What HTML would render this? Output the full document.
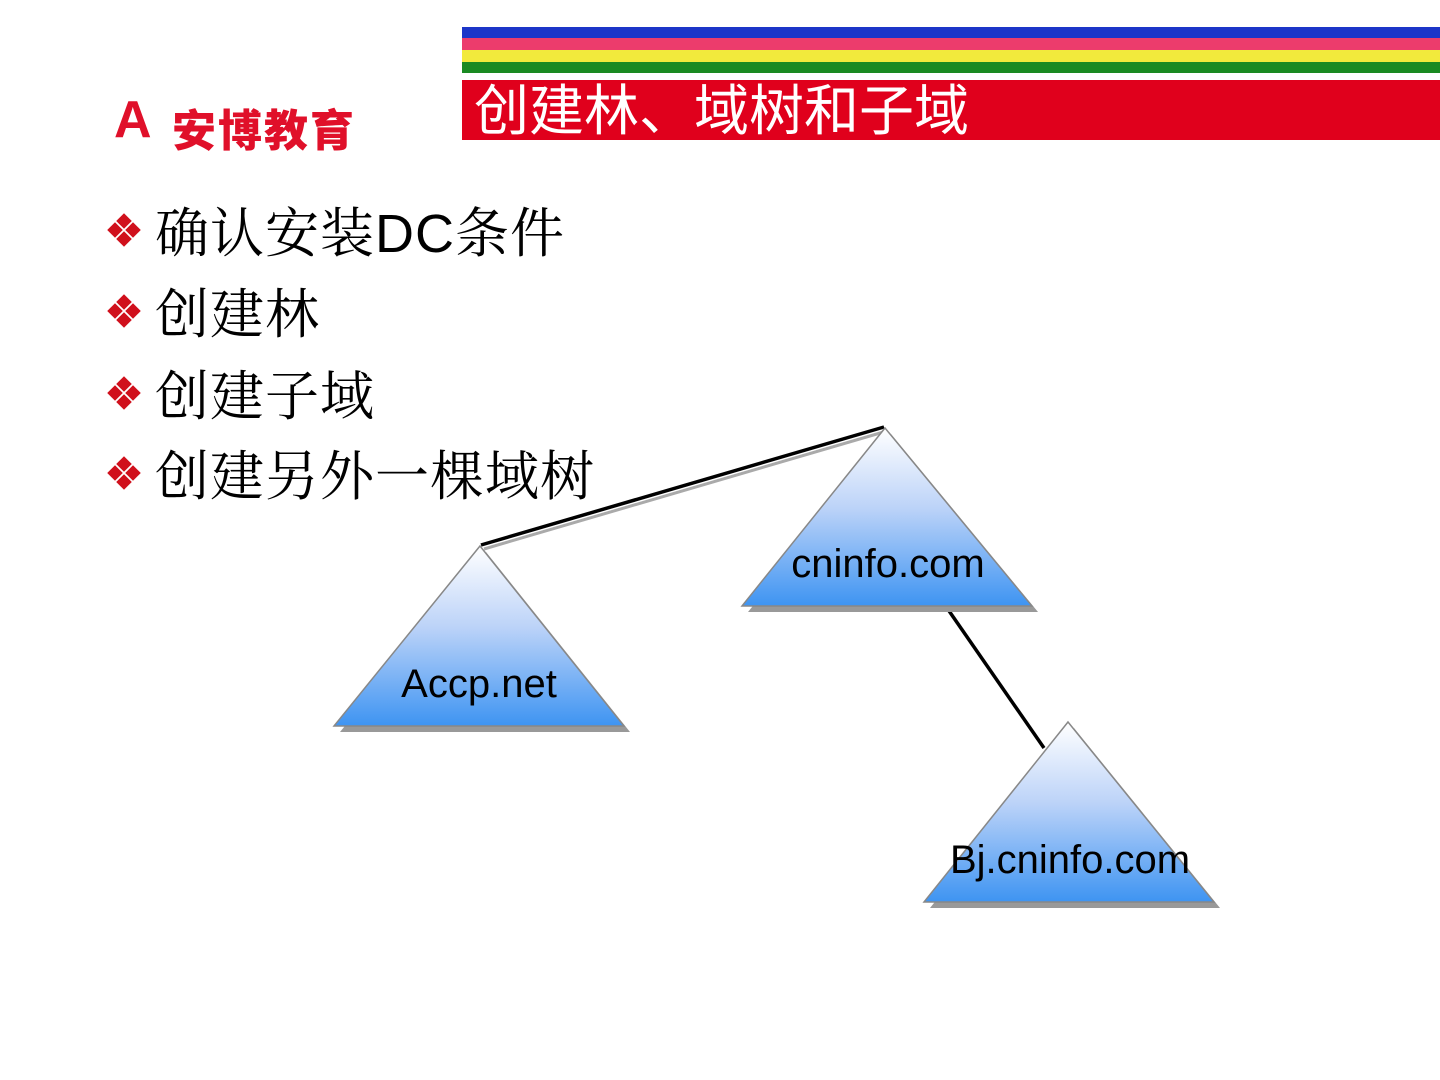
<!DOCTYPE html>
<html><head><meta charset="utf-8"><style>
body{margin:0;width:1440px;height:1080px;background:#fff;overflow:hidden;position:relative;font-family:"Liberation Sans","Noto Sans CJK SC",sans-serif}
.abs{position:absolute}
.b{position:absolute;left:155px;font-family:"Liberation Serif","Noto Serif CJK SC",serif;font-size:54px;line-height:60px;color:#000;white-space:nowrap;letter-spacing:1px}
.b span{font-family:"Liberation Sans",sans-serif}
</style></head><body>
<div class="abs" style="left:462px;top:27px;width:978px;height:11px;background:#1c35c8"></div>
<div class="abs" style="left:462px;top:38px;width:978px;height:12px;background:#ec3c6c"></div>
<div class="abs" style="left:462px;top:50px;width:978px;height:12px;background:#f2ea3c"></div>
<div class="abs" style="left:462px;top:62px;width:978px;height:11px;background:#1a8a22"></div>
<div class="abs" style="left:462px;top:80px;width:978px;height:60px;background:#e0001c"></div>
<div class="abs" style="left:474px;top:80px;color:#fff;font-size:55px;line-height:62px;font-family:'Liberation Sans','Noto Sans CJK SC',sans-serif;white-space:nowrap;letter-spacing:0px">创建林、域树和子域</div>
<div class="abs" style="left:114px;top:94px;color:#e0102a;font-size:52px;line-height:52px;font-weight:bold;font-family:'Liberation Sans',sans-serif">A</div>
<div class="abs" style="left:172px;top:104px;color:#e0102a;font-size:44px;line-height:46px;font-weight:900;font-family:'Noto Sans CJK SC',sans-serif;letter-spacing:2px">安博教育</div>

<svg class="abs" style="left:0;top:0" width="1440" height="1080">
<defs>
<g id="dm"><g fill="#d0101c"><rect x="-5.5" y="-5.5" width="11" height="11" transform="translate(0,-9) rotate(45)"/><rect x="-5.5" y="-5.5" width="11" height="11" transform="translate(0,9) rotate(45)"/><rect x="-5.5" y="-5.5" width="11" height="11" transform="translate(-9,0) rotate(45)"/><rect x="-5.5" y="-5.5" width="11" height="11" transform="translate(9,0) rotate(45)"/></g></g>
<linearGradient id="g" x1="0" y1="0" x2="0" y2="1"><stop offset="0" stop-color="#ffffff"/><stop offset="0.45" stop-color="#bcd3f8"/><stop offset="1" stop-color="#3e94f2"/></linearGradient>
</defs>
<use href="#dm" x="124" y="230"/>
<use href="#dm" x="124" y="311"/>
<use href="#dm" x="124" y="393"/>
<use href="#dm" x="124" y="473"/>
<line x1="484" y1="549" x2="887" y2="431" stroke="#aaa" stroke-width="3"/>
<line x1="481" y1="545" x2="884" y2="427" stroke="#000" stroke-width="3.5"/>
<line x1="947" y1="608" x2="1044" y2="748" stroke="#000" stroke-width="3.5"/>
<polygon points="486,552 630,732 340,732" fill="#999"/>
<polygon points="480,546 624,726 334,726" fill="url(#g)" stroke="#888" stroke-width="1.5"/>
<polygon points="891,434 1038,612 748,612" fill="#999"/>
<polygon points="885,428 1032,606 742,606" fill="url(#g)" stroke="#888" stroke-width="1.5"/>
<polygon points="1074,728 1220,908 930,908" fill="#999"/>
<polygon points="1068,722 1214,902 924,902" fill="url(#g)" stroke="#888" stroke-width="1.5"/>
<text x="479" y="697" font-family="Liberation Sans" font-size="40" text-anchor="middle" fill="#000">Accp.net</text>
<text x="888" y="577" font-family="Liberation Sans" font-size="40" text-anchor="middle" fill="#000">cninfo.com</text>
<text x="1070" y="873" font-family="Liberation Sans" font-size="40" text-anchor="middle" fill="#000">Bj.cninfo.com</text>
</svg>
<div class="b" style="top:204px">确认安装<span>DC</span>条件</div>
<div class="b" style="top:285px">创建林</div>
<div class="b" style="top:367px">创建子域</div>
<div class="b" style="top:447px">创建另外一棵域树</div>
</body></html>
